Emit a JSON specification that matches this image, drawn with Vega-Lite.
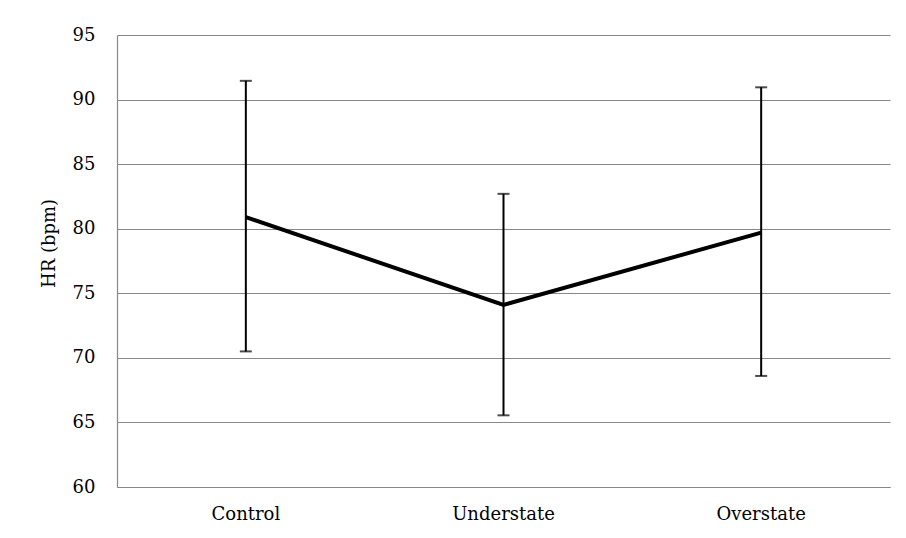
{
  "$schema": "https://vega.github.io/schema/vega-lite/v6.json",
  "width": 773,
  "height": 452,
  "autosize": {"type": "none"},
  "padding": {"left": 117, "top": 35, "right": 16, "bottom": 51},
  "background": "white",
  "data": {"values": [
    {"group": "Control", "hr": 80.9, "low": 70.5, "high": 91.45},
    {"group": "Understate", "hr": 74.1, "low": 65.55, "high": 82.7},
    {"group": "Overstate", "hr": 79.7, "low": 68.6, "high": 90.95}
  ]},
  "encoding": {
    "x": {"field": "group", "type": "nominal", "sort": null,
      "scale": {"type": "band", "paddingInner": 0, "paddingOuter": 0},
      "axis": {"title": null, "labelAngle": 0, "grid": false, "ticks": false, "domain": true,
        "domainColor": "#888888", "domainWidth": 1.2, "labelPadding": 18,
        "labelFont": "DejaVu Serif", "labelFontSize": 18, "labelColor": "#000000"}}
  },
  "layer": [
    {"mark": {"type": "rule", "color": "#000000", "strokeWidth": 2},
     "encoding": {
       "y": {"field": "low", "type": "quantitative",
         "scale": {"domain": [60, 95], "nice": false, "zero": false},
         "axis": {"values": [60, 65, 70, 75, 80, 85, 90, 95], "title": "HR (bpm)",
           "grid": true, "gridColor": "#888888", "gridWidth": 1.2, "ticks": false,
           "domain": true, "domainColor": "#888888", "domainWidth": 1.2,
           "labelPadding": 22, "labelFont": "DejaVu Serif", "labelFontSize": 18, "labelColor": "#000000",
           "titleFont": "DejaVu Serif", "titleFontSize": 18, "titleFontWeight": "normal", "titleColor": "#000000",
           "titlePadding": 14, "titleY": 208}},
       "y2": {"field": "high"}}},
    {"mark": {"type": "tick", "color": "#000000", "thickness": 2, "size": 12, "orient": "horizontal"},
     "encoding": {"y": {"field": "low", "type": "quantitative"}}},
    {"mark": {"type": "tick", "color": "#000000", "thickness": 2, "size": 12, "orient": "horizontal"},
     "encoding": {"y": {"field": "high", "type": "quantitative"}}},
    {"mark": {"type": "line", "color": "#000000", "strokeWidth": 4},
     "encoding": {"y": {"field": "hr", "type": "quantitative"}}}
  ],
  "config": {"view": {"stroke": null}}
}
